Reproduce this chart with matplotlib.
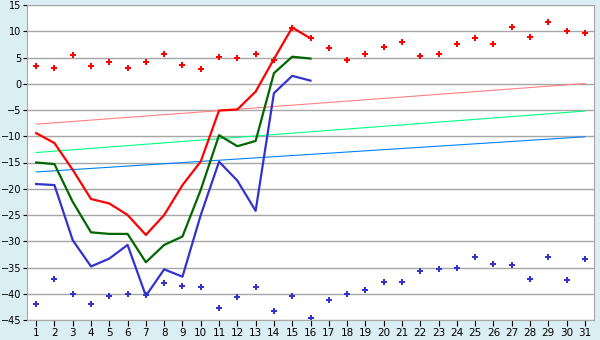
import numpy as np
import matplotlib
matplotlib.use('Agg')
import matplotlib.pyplot as plt

days = np.arange(1, 32)
days16 = np.arange(1, 17)

# daily scatter points (upper red, lower blue)
red_pts = [3.3, 3.0, 5.4, 3.3, 4.1, 3.0, 4.1, 5.6, 3.5, 2.8,
           5.15, 4.85, 5.6, 4.45, 10.7, 8.65, 6.75, 4.45, 5.6, 6.95,
           7.9, 5.2, 5.65, 7.5, 8.65, 7.5, 10.9, 9.0, 11.7, 10.0, 9.6]
blue_pts = [-42.0, -37.1, -40.1, -42.0, -40.5, -40.1, -40.3, -38.0, -38.6, -38.8,
            -42.7, -40.7, -38.8, -43.2, -40.5, -44.6, -41.25, -40.1, -39.35, -37.8,
            -37.8, -35.7, -35.35, -35.15, -33.06, -34.4, -34.6, -37.1, -33.06, -37.45, -33.45]

# lines for the first 16 days
red_line = [-9.4, -11.3, -16.4, -21.95, -22.8, -25.0, -28.8, -25.0, -19.3, -14.8,
            -5.1, -4.9, -1.5, 4.7, 10.7, 8.65]
green_line = [-15.0, -15.3, -22.5, -28.3, -28.6, -28.6, -34.0, -30.7, -29.1, -20.2,
              -9.8, -11.9, -10.9, 2.0, 5.15, 4.8]
blue_line = [-19.1, -19.3, -29.8, -34.8, -33.3, -30.7, -40.4, -35.35, -36.75, -25.0,
             -14.85, -18.45, -24.2, -1.8, 1.5, 0.6]

# straight reference lines, values at day 1 and day 31
trend_days = [1, 31]
trend_pink = [-7.7, 0.05]
trend_green = [-13.1, -5.2]
trend_blue = [-16.8, -10.1]

fig = plt.figure(figsize=(6, 3.4), dpi=100, facecolor='#daeef3')
ax = fig.add_axes([27/600, 1-320/340, 567/600, 315/340])
ax.set_facecolor('white')

ax.plot(trend_days, trend_pink, color='#ff8080', lw=0.8)
ax.plot(trend_days, trend_green, color='#00ff80', lw=0.8)
ax.plot(trend_days, trend_blue, color='#0080ff', lw=0.8)

ax.plot(days16, red_line, color='#ff0000', lw=1.6)
ax.plot(days16, green_line, color='#006600', lw=1.6)
ax.plot(days16, blue_line, color='#3333cc', lw=1.6)

ax.plot(days, red_pts, 'P', color='#ff0000', ms=4.8, mew=0, ls='none')
ax.plot(days, blue_pts, 'P', color='#3333cc', ms=4.8, mew=0, ls='none')

ax.set_xlim(0.5, 31.5)
ax.set_ylim(-45, 15)
ax.set_xticks(days)
ax.set_yticks(np.arange(-45, 16, 5))
ax.grid(axis='y', color='#a6a6a6', lw=1)
ax.set_axisbelow(True)
for s in ax.spines.values():
    s.set_color('#a6a6a6')
ax.tick_params(axis='x', labelsize=7.5, length=4, width=0.8, pad=2, color='black')
ax.tick_params(axis='y', labelsize=7, length=3, width=0.8, pad=1, color='black')

fig.savefig('out.png', dpi=100, facecolor=fig.get_facecolor())
